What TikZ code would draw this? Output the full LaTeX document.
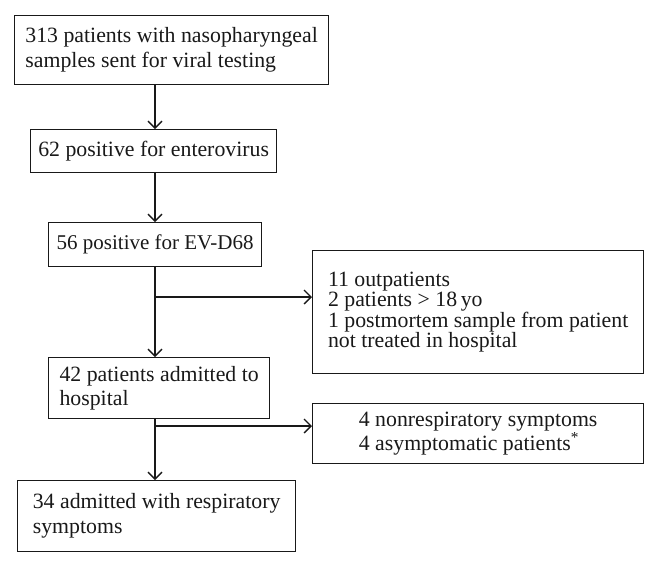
\documentclass[tikz,border=0pt]{standalone}
\usepackage{fontspec}
\setmainfont{Liberation Serif}
\usetikzlibrary{arrows.meta}
\tikzset{
  box/.style={draw=black!90, line width=1.3pt, anchor=north west, align=left,
    inner xsep=0pt, inner ysep=0pt, text=black!90,
    font=\fontsize{21.8}{23}\selectfont},
  arr/.style={draw=black!90, line width=1.3pt,
    -{Straight Barb[length=7pt,width=14pt,line width=1.3pt]}}
}
\begin{document}
\begin{tikzpicture}[x=1pt,y=-1pt]
\useasboundingbox[fill=white] (0,0) rectangle (658,565);
\node[box, minimum width=314pt, minimum height=69pt, font=\fontsize{21.8}{25}\selectfont] (b1) at (14,15)
  {313 patients with nasopharyngeal\\samples sent for viral testing};
\node[box, minimum width=246pt, minimum height=43pt] (b2) at (30,129)
  {62 positive for enterovirus};
\node[box, minimum width=213pt, minimum height=44pt, font=\fontsize{21}{23}\selectfont] (b3) at (48,222)
  {56 positive for EV-D68};
\node[box, minimum width=331pt, minimum height=123pt, font=\fontsize{21.8}{20}\selectfont] (b4) at (312,250)
  {11 outpatients\\2 patients \textgreater{} 18\,yo\\1 postmortem sample from patient\\not treated in hospital};
\node[box, minimum width=221pt, minimum height=61pt, font=\fontsize{21.8}{23.5}\selectfont] (b5) at (48,357)
  {42 patients admitted to\\hospital};
\node[box, minimum width=278pt, minimum height=71pt, font=\fontsize{21.8}{25}\selectfont] (b6) at (17,480)
  {34 admitted with respiratory\\symptoms};
\node[box, minimum width=331pt, minimum height=60pt, font=\fontsize{21.8}{18.5}\selectfont] (b7) at (312,403)
  {4 nonrespiratory symptoms\\4 asymptomatic patients\textsuperscript{*}};
\coordinate (spine) at (155,0);
\coordinate (j1) at (155,297);
\coordinate (j2) at (155,426);
\draw[arr] (b1.south -| spine) -- (b2.north -| spine);
\draw[arr] (b2.south -| spine) -- (b3.north -| spine);
\draw[arr] (b3.south -| spine) -- (b5.north -| spine);
\draw[arr] (j1) -- (j1 -| b4.west);
\draw[arr] (b5.south -| spine) -- (b6.north -| spine);
\draw[arr] (j2) -- (j2 -| b7.west);
\end{tikzpicture}
\end{document}
